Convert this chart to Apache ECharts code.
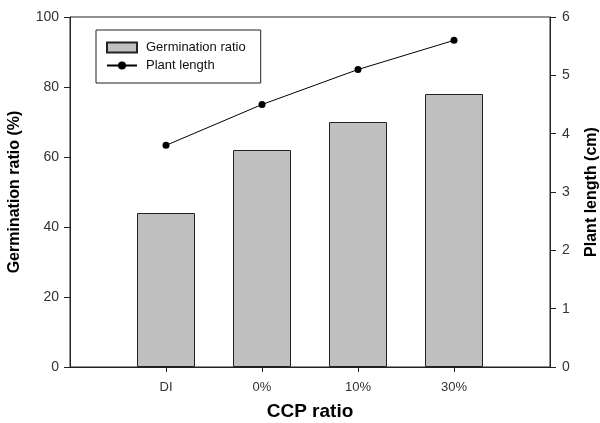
<!DOCTYPE html>
<html>
<head>
<meta charset="utf-8">
<script src="https://cdn.jsdelivr.net/npm/echarts@6/dist/echarts.min.js"></script>
<style>
    html, body {margin: 0; padding: 0; background: #fff;}
    #chart {width: 600px; height: 423px;}
</style>
</head>
<body>
<div id="chart"></div>
<script>
// padded with empty slots so the groups sit one step in from each edge
const categories = ['', 'DI', '0%', '10%', '30%', ''];
const germination = [null, 44, 62, 70, 78, null];
const plantLength = [null, 3.8, 4.5, 5.1, 5.6, null];

const font = 'Liberation Sans, Arial, sans-serif';
const ink = '#222';

let myChart = echarts.init(document.getElementById('chart'));
myChart.setOption({
    animation: false,
    textStyle: {fontFamily: font},
    grid: {
        left: 70, right: 50, top: 17, bottom: 56,
        outerBoundsMode: 'none',
        containLabel: false,
        show: true, borderColor: ink, borderWidth: 1
    },
    legend: {
        orient: 'vertical',
        left: 96, top: 30,
        padding: [11, 15, 11, 10],
        itemGap: 5,
        itemWidth: 30, itemHeight: 10,
        borderColor: ink, borderWidth: 1, borderRadius: 0,
        textStyle: {fontSize: 13, color: '#111', fontFamily: font, padding: [0, 0, 0, 4]},
        data: [
            {name: 'Germination ratio', icon: 'rect'},
            {name: 'Plant length'}
        ]
    },
    xAxis: {
        type: 'category',
        data: categories,
        boundaryGap: false,
        name: 'CCP ratio',
        nameLocation: 'middle',
        nameGap: 35,
        nameTextStyle: {fontSize: 19, fontWeight: 'bold', color: '#000'},
        axisLine: {lineStyle: {color: ink}},
        axisTick: {
            inside: false, length: 5,
            interval: (i, v) => v !== '',
            lineStyle: {color: ink}
        },
        axisLabel: {margin: 14, fontSize: 13, color: '#333', interval: 0}
    },
    yAxis: [
        {
            type: 'value',
            min: 0, max: 100, interval: 20,
            name: 'Germination ratio (%)',
            nameLocation: 'middle',
            nameGap: 47,
            nameTextStyle: {fontSize: 16, fontWeight: 'bold', color: '#000'},
            axisLine: {show: true, lineStyle: {color: ink}},
            axisTick: {show: true, length: 6, lineStyle: {color: ink}},
            axisLabel: {margin: 11, fontSize: 14, color: '#333'},
            splitLine: {show: false}
        },
        {
            type: 'value',
            position: 'right',
            min: 0, max: 6, interval: 1,
            name: 'Plant length (cm)',
            nameLocation: 'middle',
            nameGap: 34,
            nameTextStyle: {fontSize: 16, fontWeight: 'bold', color: '#000'},
            axisLine: {show: true, lineStyle: {color: ink}},
            axisTick: {show: true, length: 6, lineStyle: {color: ink}},
            axisLabel: {margin: 12, fontSize: 14, color: '#333'},
            splitLine: {show: false}
        }
    ],
    series: [
        {
            name: 'Germination ratio',
            type: 'bar',
            yAxisIndex: 0,
            barWidth: 58,
            itemStyle: {color: '#c0c0c0', borderColor: ink, borderWidth: 1},
            data: germination
        },
        {
            name: 'Plant length',
            type: 'line',
            yAxisIndex: 1,
            symbol: 'circle',
            symbolSize: 7,
            connectNulls: false,
            lineStyle: {color: '#000', width: 1},
            itemStyle: {color: '#000'},
            data: plantLength
        }
    ]
});
</script>
</body>
</html>
